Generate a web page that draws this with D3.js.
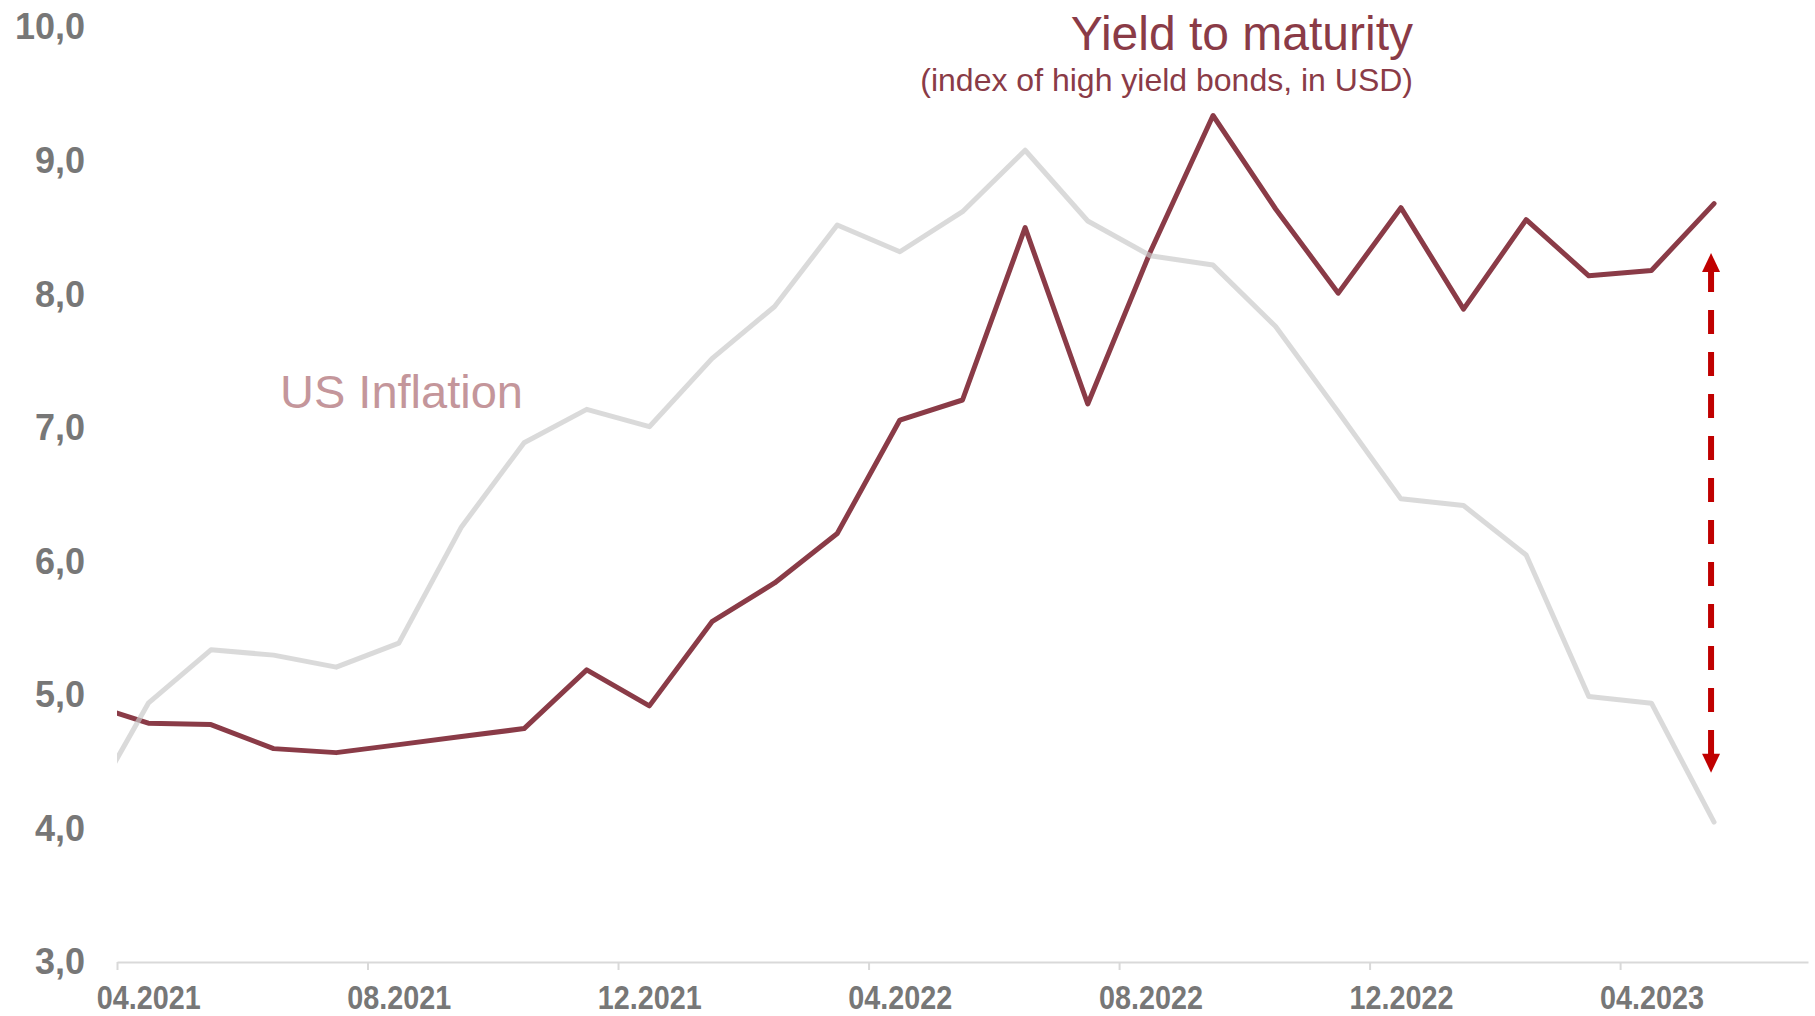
<!DOCTYPE html>
<html>
<head>
<meta charset="utf-8">
<script src="https://cdn.jsdelivr.net/npm/d3@7"></script>
<style>
    body { margin: 0; background: #fff; }
    svg { display: block; }
</style>
</head>
<body>
<svg id="chart"></svg>
<script>
// months, first one sits left of the plot and gets clipped
const months = ["03.2021", "04.2021", "05.2021", "06.2021", "07.2021", "08.2021", "09.2021",
    "10.2021", "11.2021", "12.2021", "01.2022", "02.2022", "03.2022", "04.2022", "05.2022",
    "06.2022", "07.2022", "08.2022", "09.2022", "10.2022", "11.2022", "12.2022", "01.2023",
    "02.2023", "03.2023", "04.2023", "05.2023"];

const inflation = [4.10, 4.93, 5.33, 5.29, 5.20, 5.38, 6.25, 6.88, 7.13, 7.00, 7.51, 7.90, 8.51,
    8.31, 8.61, 9.07, 8.54, 8.28, 8.21, 7.75, 7.11, 6.46, 6.41, 6.04, 4.98, 4.93, 4.04];

const ytm = [4.93, 4.78, 4.77, 4.59, 4.56, 4.62, 4.68, 4.74, 5.18, 4.91, 5.54, 5.83, 6.20,
    7.05, 7.20, 8.49, 7.17, 8.31, 9.33, 8.63, 8.00, 8.64, 7.88, 8.55, 8.13, 8.17, 8.67];

const xTickLabels = ["04.2021", "08.2021", "12.2021", "04.2022", "08.2022", "12.2022", "04.2023"];
const yTicks = [3, 4, 5, 6, 7, 8, 9, 10];

// spread arrow (values on the y axis)
const arrowTop = 8.30;
const arrowBottom = 4.41;

const svg = d3.select('#chart')
    .attr('width', 1815)
    .attr('height', 1016);

const margins = {top: 26, right: 7, bottom: 55, left: 117};
const width = +svg.attr('width') - margins.left - margins.right;
const height = +svg.attr('height') - margins.top - margins.bottom;

// month i spans [i, i+1]; 04.2021 starts the axis, an empty 06.2023 slot closes it
const x = d3.scaleLinear().domain([1, months.length + 1]).range([0, width]);
const y = d3.scaleLinear().domain([3, 10]).range([height, 0]);

const g = svg.append('g')
    .attr('transform', `translate(${margins.left}, ${margins.top})`);

g.append('clipPath')
    .attr('id', 'plot-clip')
    .append('rect')
    .attr('x', 0)
    .attr('y', -margins.top)
    .attr('width', width)
    .attr('height', height + margins.top);

// y labels, no axis line
const yAxis = g.append('g')
    .attr('class', 'axis axis-y')
    .attr('transform', 'translate(-32, 0)')
    .call(d3.axisLeft(y).tickValues(yTicks).tickSize(0)
        .tickFormat(d => d3.format('.1f')(d).replace('.', ',')));
yAxis.select('.domain').remove();
yAxis.selectAll('text')
    .attr('x', 0)
    .attr('dy', '0.36em')
    .attr('font-family', "'Liberation Sans', Arial, sans-serif")
    .attr('font-weight', 'bold')
    .attr('font-size', 36)
    .attr('fill', '#777777');

// x axis line + ticks between categories
const tickIdx = xTickLabels.map(l => months.indexOf(l));
const xTicks = g.append('g')
    .attr('class', 'axis axis-x')
    .attr('transform', `translate(0, ${height + 1})`)
    .call(d3.axisBottom(x).tickValues(tickIdx).tickSize(8).tickSizeOuter(0).tickFormat(''));
xTicks.select('.domain')
    .attr('stroke', '#d9d9d9')
    .attr('stroke-width', 2);
xTicks.selectAll('.tick line')
    .attr('stroke', '#d9d9d9')
    .attr('stroke-width', 2);

// x labels centred on their month, squeezed like a narrow face
const xLabels = g.append('g')
    .attr('class', 'axis axis-x-labels')
    .attr('transform', `translate(0, ${height + 1})`)
    .call(d3.axisBottom(x).tickValues(tickIdx.map(i => i + 0.5)).tickSize(0)
        .tickFormat((d, i) => xTickLabels[i]));
xLabels.select('.domain').remove();
xLabels.selectAll('text')
    .attr('y', 47)
    .attr('dy', 0)
    .attr('font-family', "'Liberation Sans', Arial, sans-serif")
    .attr('font-weight', 'bold')
    .attr('font-size', 34)
    .attr('textLength', 104)
    .attr('lengthAdjust', 'spacingAndGlyphs')
    .attr('fill', '#777777');

// lines
const line = d3.line()
    .x((d, i) => x(i + 0.5))
    .y(d => y(d));

const lines = g.append('g').attr('clip-path', 'url(#plot-clip)');

lines.append('path')
    .datum(ytm)
    .attr('fill', 'none')
    .attr('stroke', '#8a3b47')
    .attr('stroke-width', 5)
    .attr('stroke-linejoin', 'round')
    .attr('stroke-linecap', 'round')
    .attr('d', line);

lines.append('path')
    .datum(inflation)
    .attr('fill', 'none')
    .attr('stroke', '#c8c8c8')
    .attr('stroke-opacity', 0.68)
    .attr('stroke-width', 5)
    .attr('stroke-linejoin', 'round')
    .attr('stroke-linecap', 'round')
    .attr('d', line);

// spread arrow at the last month
const ax = x(months.length - 1 + 0.5) - 3;
const headH = 19, headW = 9;
g.append('line')
    .attr('x1', ax).attr('x2', ax)
    .attr('y1', y(arrowTop) + headH - 4)
    .attr('y2', y(arrowBottom) - headH + 2)
    .attr('stroke', '#c00000')
    .attr('stroke-width', 6)
    .attr('stroke-dasharray', '24,18');
g.append('path')
    .attr('d', `M${ax},${y(arrowTop)} L${ax + headW},${y(arrowTop) + headH} L${ax - headW},${y(arrowTop) + headH} Z`)
    .attr('fill', '#c00000');
g.append('path')
    .attr('d', `M${ax},${y(arrowBottom)} L${ax + headW},${y(arrowBottom) - headH} L${ax - headW},${y(arrowBottom) - headH} Z`)
    .attr('fill', '#c00000');

// annotations
svg.append('text')
    .text('Yield to maturity')
    .attr('x', 1413)
    .attr('y', 50)
    .attr('text-anchor', 'end')
    .attr('font-family', "'Liberation Sans', Arial, sans-serif")
    .attr('font-size', 48)
    .attr('fill', '#8a3b47');

svg.append('text')
    .text('(index of high yield bonds, in USD)')
    .attr('x', 1413)
    .attr('y', 91)
    .attr('text-anchor', 'end')
    .attr('font-family', "'Liberation Sans', Arial, sans-serif")
    .attr('font-size', 32)
    .attr('fill', '#8a3b47');

svg.append('text')
    .text('US Inflation')
    .attr('x', 280)
    .attr('y', 408)
    .attr('font-family', "'Liberation Sans', Arial, sans-serif")
    .attr('font-size', 47)
    .attr('fill', '#c4969b');
</script>
</body>
</html>
